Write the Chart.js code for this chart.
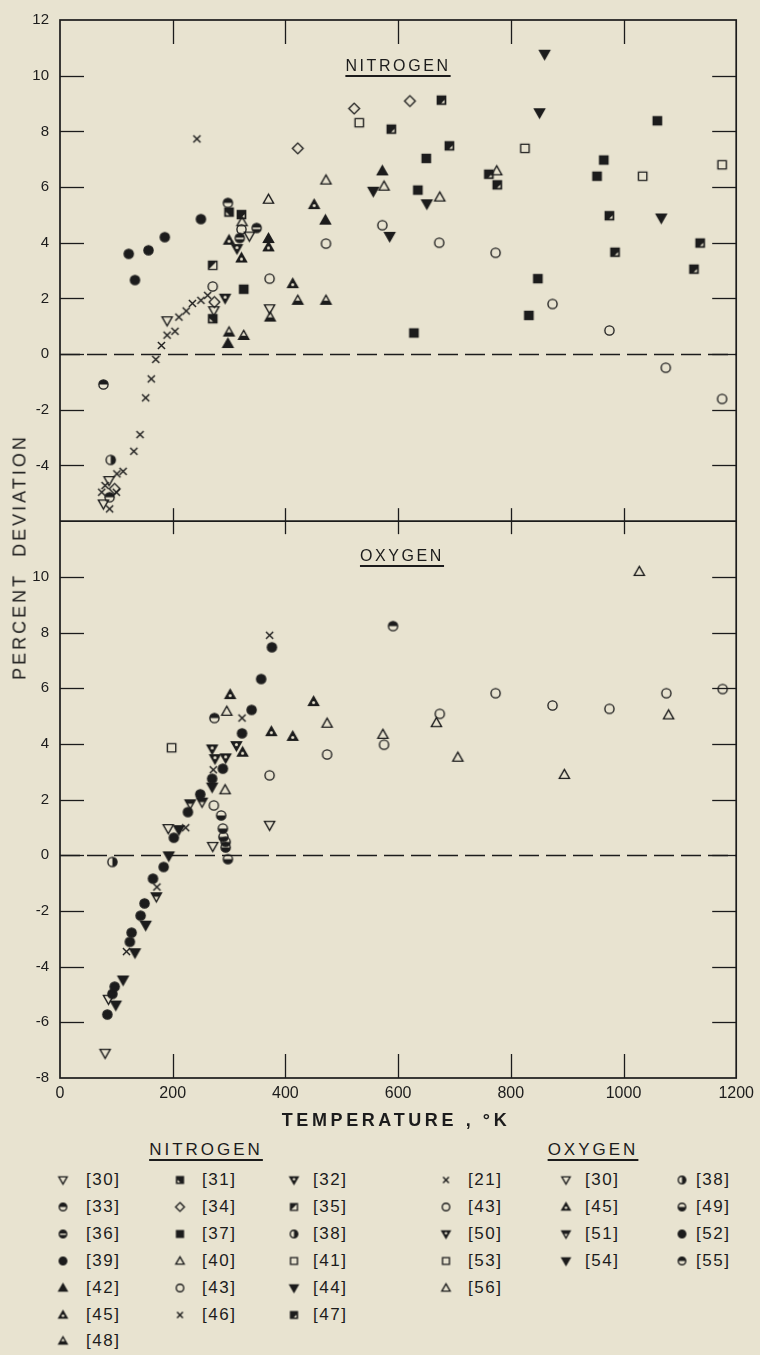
<!DOCTYPE html>
<html>
<head>
<meta charset="utf-8">
<title>Percent deviation - nitrogen / oxygen</title>
<script src="https://cdn.jsdelivr.net/npm/chart.js@4/dist/chart.umd.min.js"></script>
<style>
    html, body { margin: 0; padding: 0; background: #e8e3d0; }
    #page {
        position: relative; width: 760px; height: 1355px; overflow: hidden;
        font-family: 'Liberation Sans', Arial, sans-serif; color: #1c1c1c;
    }
    #c { position: absolute; left: 0; top: 0; }
    .lbl { position: absolute; white-space: nowrap; transform: translate(-50%, -50%); }
    .under { text-decoration: underline; text-decoration-thickness: 1.5px; text-underline-offset: 4px; }
    .panel { font-size: 16px; letter-spacing: 2.6px; }
    .head { font-size: 17px; letter-spacing: 3px; }
    .axisT { font-size: 18px; letter-spacing: 3.6px; font-weight: bold; }
    .yT { font-size: 18px; letter-spacing: 3px; transform: translate(-50%, -50%) rotate(-90deg); }
    .leg { position: absolute; font-size: 17px; letter-spacing: 1.5px; transform: translateY(-50%); white-space: nowrap; }
    .sym { position: absolute; transform: translate(-50%, -50%); }
</style>
</head>
<body>
<div id="page">
    <canvas id="c" width="760" height="1135"></canvas>
    <div class="lbl panel under" style="left:398px; top:66px;">NITROGEN</div>
    <div class="lbl panel under" style="left:402px; top:556px;">OXYGEN</div>
    <div class="lbl yT" style="left:20px; top:557px;">PERCENT&nbsp;&nbsp;DEVIATION</div>
    <div class="lbl axisT" style="left:396px; top:1120px;">TEMPERATURE , °K</div>
    <div class="lbl head under" style="left:206px; top:1150px;">NITROGEN</div>
    <div class="lbl head under" style="left:593px; top:1150px;">OXYGEN</div>
    <div id="legend"></div>
</div>
<script>
    const INK = '#1c1c1c';
    const BG = '#e8e3d0';

    // ---- nitrogen, [T (K), percent deviation] ----
    const N30 = [[77, -5.38], [87, -4.54], [190, 1.2], [273, 1.56], [336, 4.24], [372, 1.63]];
    const N31 = [[271, 1.27], [300, 5.1]];
    const N32 = [[293, 2.01], [314, 3.79]];
    const N33 = [[77, -1.09], [88, -5.14], [298, 5.43]];
    const N34 = [[97, -4.84], [274, 1.87], [422, 7.39], [522, 8.82], [621, 9.09]];
    const N35 = [[271, 3.19]];
    const N36 = [[319, 4.17], [349, 4.53]];
    const N37 = [[326, 2.33], [628, 0.76], [635, 5.89], [650, 7.03], [832, 1.39], [848, 2.71], [953, 6.39], [965, 6.97], [1060, 8.38]];
    const N38 = [[90, -3.8]];
    const N39 = [[122, 3.6], [133, 2.66], [157, 3.73], [186, 4.2], [250, 4.85]];
    const N40 = [[323, 4.75], [370, 5.56], [472, 6.25], [575, 6.03], [674, 5.64], [775, 6.58]];
    const N41 = [[531, 8.31], [825, 7.39], [1034, 6.39], [1175, 6.8]];
    const N42 = [[298, 0.38], [370, 4.15], [471, 4.81], [572, 6.58]];
    const N43 = [[271, 2.43], [322, 4.48], [372, 2.71], [472, 3.97], [572, 4.63], [673, 4.0], [773, 3.64], [874, 1.8], [975, 0.85], [1075, -0.49], [1175, -1.61]];
    const N44 = [[556, 5.85], [585, 4.23], [651, 5.4], [851, 8.67], [860, 10.77], [1067, 4.89]];
    const N45 = [[300, 4.09], [322, 3.45], [370, 3.85], [413, 2.53], [451, 5.37]];
    const N46 = [[74, -4.96], [80, -4.72], [88, -5.56], [100, -4.96], [101, -4.3], [112, -4.21], [131, -3.49], [142, -2.89], [152, -1.57], [162, -0.89], [170, -0.19], [180, 0.31], [190, 0.68], [204, 0.82], [211, 1.33], [224, 1.55], [235, 1.82], [243, 7.73], [250, 1.93], [262, 2.11]];
    const N47 = [[322, 5.01], [588, 8.08], [677, 9.12], [691, 7.48], [761, 6.46], [776, 6.08], [975, 4.97], [985, 3.66], [1125, 3.05], [1136, 3.99]];
    const N48 = [[300, 0.79], [326, 0.67], [373, 1.33], [422, 1.93], [472, 1.93]];

    // ---- oxygen ----
    const O21 = [[118, -3.46], [172, -1.14], [223, 0.99], [272, 3.07], [323, 4.93], [372, 7.9]];
    const O30 = [[80, -7.11], [86, -5.17], [192, 0.96], [271, 0.32], [372, 1.08]];
    const O38 = [[93, -0.24]];
    const O43 = [[273, 1.79], [372, 2.87], [474, 3.62], [575, 3.97], [674, 5.08], [773, 5.82], [874, 5.38], [975, 5.26], [1076, 5.82], [1176, 5.97]];
    const O45 = [[302, 5.77], [324, 3.7], [375, 4.44], [413, 4.27], [450, 5.52]];
    const O49 = [[286, 1.43], [289, 0.96], [290, 0.66], [294, 0.48], [294, 0.28], [298, -0.14]];
    const O50 = [[270, 3.82], [275, 3.47], [294, 3.5], [313, 3.94]];
    const O51 = [[171, -1.49], [231, 1.85], [252, 1.91]];
    const O52 = [[84, -5.72], [93, -4.98], [97, -4.72], [124, -3.11], [127, -2.78], [143, -2.17], [150, -1.73], [165, -0.84], [184, -0.42], [202, 0.63], [227, 1.55], [249, 2.19], [270, 2.75], [289, 3.11], [323, 4.38], [340, 5.22], [357, 6.33], [376, 7.47]];
    const O53 = [[198, 3.86]];
    const O54 = [[99, -5.38], [112, -4.48], [133, -3.5], [152, -2.51], [193, -0.02], [211, 0.92], [270, 2.45]];
    const O55 = [[274, 4.93], [591, 8.23]];
    const O56 = [[293, 2.35], [296, 5.17], [474, 4.74], [573, 4.34], [668, 4.76], [706, 3.52], [895, 2.9], [1028, 10.19], [1080, 5.04]];

    // reference label, points, marker kind (legend order, row by row)
    const NITROGEN = [
        ['[30]', N30, 'downOpen'], ['[31]', N31, 'sqCornerBL'], ['[32]', N32, 'downDot'],
        ['[33]', N33, 'circTop'], ['[34]', N34, 'diamond'], ['[35]', N35, 'sqDiag'],
        ['[36]', N36, 'circBand'], ['[37]', N37, 'sqFill'], ['[38]', N38, 'circRight'],
        ['[39]', N39, 'circFill'], ['[40]', N40, 'upOpen'], ['[41]', N41, 'sqOpen'],
        ['[42]', N42, 'upFill'], ['[43]', N43, 'circOpen'], ['[44]', N44, 'downFill'],
        ['[45]', N45, 'upDot'], ['[46]', N46, 'cross'], ['[47]', N47, 'sqCornerBR'],
        ['[48]', N48, 'upHalf'],
    ];
    const OXYGEN = [
        ['[21]', O21, 'cross'], ['[30]', O30, 'downOpen'], ['[38]', O38, 'circRight'],
        ['[43]', O43, 'circOpen'], ['[45]', O45, 'upDot'], ['[49]', O49, 'circBottom'],
        ['[50]', O50, 'downDot'], ['[51]', O51, 'downHalf'], ['[52]', O52, 'circFill'],
        ['[53]', O53, 'sqOpen'], ['[54]', O54, 'downFill'], ['[55]', O55, 'circTop'],
        ['[56]', O56, 'upOpen'],
    ];

    /** outline path of the base shape */
    function shapePath(c, shape, x, y, s) {
        c.beginPath();
        if (shape === 'circ') c.arc(x, y, s * 0.9, 0, Math.PI * 2);
        else if (shape === 'sq') c.rect(x - s * 0.82, y - s * 0.82, s * 1.64, s * 1.64);
        else if (shape === 'up') { c.moveTo(x, y - s); c.lineTo(x + s, y + s * 0.75); c.lineTo(x - s, y + s * 0.75); c.closePath(); }
        else if (shape === 'down') { c.moveTo(x, y + s); c.lineTo(x + s, y - s * 0.75); c.lineTo(x - s, y - s * 0.75); c.closePath(); }
        else if (shape === 'diamond') { c.moveTo(x, y - s * 1.05); c.lineTo(x + s * 1.05, y); c.lineTo(x, y + s * 1.05); c.lineTo(x - s * 1.05, y); c.closePath(); }
    }

    function clipFill(c, shape, x, y, s, fn) {
        c.save();
        shapePath(c, shape, x, y, s);
        c.clip();
        fn();
        c.restore();
    }

    function drawMarker(c, kind, x, y, s) {
        c.save();
        c.strokeStyle = INK; c.fillStyle = INK; c.lineWidth = 1.35;
        const m = kind.match(/^(circ|sq|up|down|diamond|cross)(.*)$/);
        const shape = m[1], fill = m[2];
        const big = s + 2;
        if (shape === 'cross') {
            const d = s * 0.7;
            c.lineWidth = 1.4;
            c.beginPath();
            c.moveTo(x - d, y - d); c.lineTo(x + d, y + d);
            c.moveTo(x + d, y - d); c.lineTo(x - d, y + d);
            c.stroke();
            c.restore();
            return;
        }
        if (fill === 'Fill' || fill === 'Dot' || fill === 'Band' || fill === 'CornerBL' || fill === 'CornerBR') {
            shapePath(c, shape, x, y, s);
            c.fill();
        }
        if (fill === 'Top') clipFill(c, shape, x, y, s, () => c.fillRect(x - big, y - big, big * 2, big));
        if (fill === 'Bottom') clipFill(c, shape, x, y, s, () => c.fillRect(x - big, y, big * 2, big));
        if (fill === 'Right') clipFill(c, shape, x, y, s, () => c.fillRect(x, y - big, big, big * 2));
        if (fill === 'Half') {
            // filled half toward the wide side of the triangle
            const yy = shape === 'up' ? y + s * 0.05 : y - big;
            clipFill(c, shape, x, y, s, () => c.fillRect(x - big, yy, big * 2, big));
        }
        if (fill === 'Diag') clipFill(c, shape, x, y, s, () => {
            c.beginPath(); c.moveTo(x - big, y - big); c.lineTo(x + big, y - big); c.lineTo(x - big, y + big); c.closePath(); c.fill();
        });
        c.fillStyle = BG;
        if (fill === 'Dot') {
            const cy = shape === 'up' ? y + s * 0.2 : y - s * 0.2;
            c.beginPath(); c.arc(x, cy, s * 0.3, 0, Math.PI * 2); c.fill();
        }
        if (fill === 'Band') c.fillRect(x - big, y - s * 0.1, big * 2, s * 0.32);
        if (fill === 'CornerBL') {
            c.beginPath(); c.moveTo(x - s * 0.6, y + s * 0.6); c.lineTo(x - s * 0.6, y - s * 0.05); c.lineTo(x + s * 0.05, y + s * 0.6); c.closePath(); c.fill();
        }
        if (fill === 'CornerBR') {
            c.beginPath(); c.moveTo(x + s * 0.6, y + s * 0.6); c.lineTo(x + s * 0.6, y - s * 0.05); c.lineTo(x - s * 0.05, y + s * 0.6); c.closePath(); c.fill();
        }
        shapePath(c, shape, x, y, s);
        c.stroke();
        c.restore();
    }

    function markerCanvas(kind, s) {
        const cv = document.createElement('canvas');
        const size = Math.ceil(s * 2 + 4);
        cv.width = size; cv.height = size;
        drawMarker(cv.getContext('2d'), kind, size / 2, size / 2, s);
        return cv;
    }

    const datasets = [];
    NITROGEN.forEach(([ref, pts, kind]) => datasets.push({
        label: 'Nitrogen ' + ref,
        data: pts.map(([x, y]) => ({ x, y })),
        yAxisID: 'yTop',
        pointStyle: markerCanvas(kind, 5.1),
        pointRadius: 5,
    }));
    OXYGEN.forEach(([ref, pts, kind]) => datasets.push({
        label: 'Oxygen ' + ref,
        data: pts.map(([x, y]) => ({ x, y })),
        yAxisID: 'yBot',
        pointStyle: markerCanvas(kind, 5.1),
        pointRadius: 5,
    }));

    // frame, inward tick marks and dashed zero lines
    const framePlugin = {
        id: 'frame',
        beforeDatasetsDraw(chart) {
            const { ctx, chartArea: a, scales } = chart;
            ctx.save();
            ctx.strokeStyle = INK;
            ctx.lineWidth = 1.3;
            ctx.setLineDash([20, 7]);
            for (const sc of [scales.yTop, scales.yBot]) {
                const y = Math.round(sc.getPixelForValue(0)) + 0.5;
                ctx.beginPath(); ctx.moveTo(a.left, y); ctx.lineTo(a.right, y); ctx.stroke();
            }
            ctx.restore();
        },
        afterDatasetsDraw(chart) {
            const { ctx, chartArea: a, scales } = chart;
            const TL = 24;
            const line = (x1, y1, x2, y2) => { ctx.beginPath(); ctx.moveTo(x1, y1); ctx.lineTo(x2, y2); ctx.stroke(); };
            ctx.save();
            ctx.strokeStyle = INK;
            ctx.lineWidth = 1.7;
            ctx.strokeRect(a.left, a.top, a.right - a.left, a.bottom - a.top);
            const mid = scales.yTop.bottom;
            line(a.left, mid, a.right, mid);
            ctx.lineWidth = 1.3;
            for (const sc of [scales.yTop, scales.yBot]) {
                sc.ticks.forEach(t => {
                    if (t.value <= sc.min || t.value >= sc.max) return;
                    const y = Math.round(sc.getPixelForValue(t.value)) + 0.5;
                    line(a.left, y, a.left + TL, y);
                    line(a.right - TL, y, a.right, y);
                });
            }
            scales.x.ticks.forEach(t => {
                if (t.value <= scales.x.min || t.value >= scales.x.max) return;
                const x = Math.round(scales.x.getPixelForValue(t.value)) + 0.5;
                line(x, a.top, x, a.top + TL);
                line(x, a.bottom - TL, x, a.bottom);
                line(x, mid - 13, x, mid + 13);
            });
            ctx.restore();
        }
    };

    Chart.defaults.font.family = "'Liberation Sans', Arial, sans-serif";
    Chart.defaults.color = INK;

    const yCommon = {
        type: 'linear',
        position: 'left',
        stack: 'panels',
        grid: { display: false, drawTicks: false },
        border: { display: false },
        ticks: { stepSize: 2, padding: 11, font: { size: 15 }, color: INK },
        afterFit: (s) => { s.width = 60; },
    };

    new Chart(document.getElementById('c'), {
        type: 'scatter',
        data: { datasets },
        options: {
            responsive: false,
            animation: false,
            devicePixelRatio: 1,
            layout: { padding: { top: 18, right: 22, left: 0, bottom: 0 } },
            plugins: { legend: { display: false }, tooltip: { enabled: false } },
            scales: {
                x: {
                    type: 'linear', min: 0, max: 1200,
                    grid: { display: false, drawTicks: false },
                    border: { display: false },
                    ticks: { stepSize: 200, padding: 6, font: { size: 16 }, color: INK, maxRotation: 0, callback: v => String(v) },
                    afterFit: (s) => { s.height = 57; },
                },
                yBot: Object.assign({}, yCommon, {
                    min: -8, max: 12, stackWeight: 20,
                    ticks: Object.assign({}, yCommon.ticks, { callback: v => (v >= 12 ? '' : v) }),
                }),
                yTop: Object.assign({}, yCommon, {
                    min: -6, max: 12, stackWeight: 18,
                    ticks: Object.assign({}, yCommon.ticks, { callback: v => (v <= -6 ? '' : v) }),
                }),
            },
        },
        plugins: [framePlugin],
    });

    // legend block under the chart
    const legend = document.getElementById('legend');
    const ROW0 = 1180, ROWH = 26.9;
    function addLegend(list, symX, txtX) {
        list.forEach(([ref, , kind], i) => {
            const row = Math.floor(i / 3), col = i % 3;
            const y = ROW0 + row * ROWH;
            const cv = markerCanvas(kind, 4.2);
            cv.className = 'sym';
            cv.style.left = symX[col] + 'px';
            cv.style.top = y + 'px';
            legend.appendChild(cv);
            const t = document.createElement('div');
            t.className = 'leg';
            t.style.left = txtX[col] + 'px';
            t.style.top = y + 'px';
            t.textContent = ref;
            legend.appendChild(t);
        });
    }
    addLegend(NITROGEN, [63, 180, 294], [86, 202, 313]);
    addLegend(OXYGEN, [446, 566, 682], [468, 585, 696]);
</script>
</body>
</html>
